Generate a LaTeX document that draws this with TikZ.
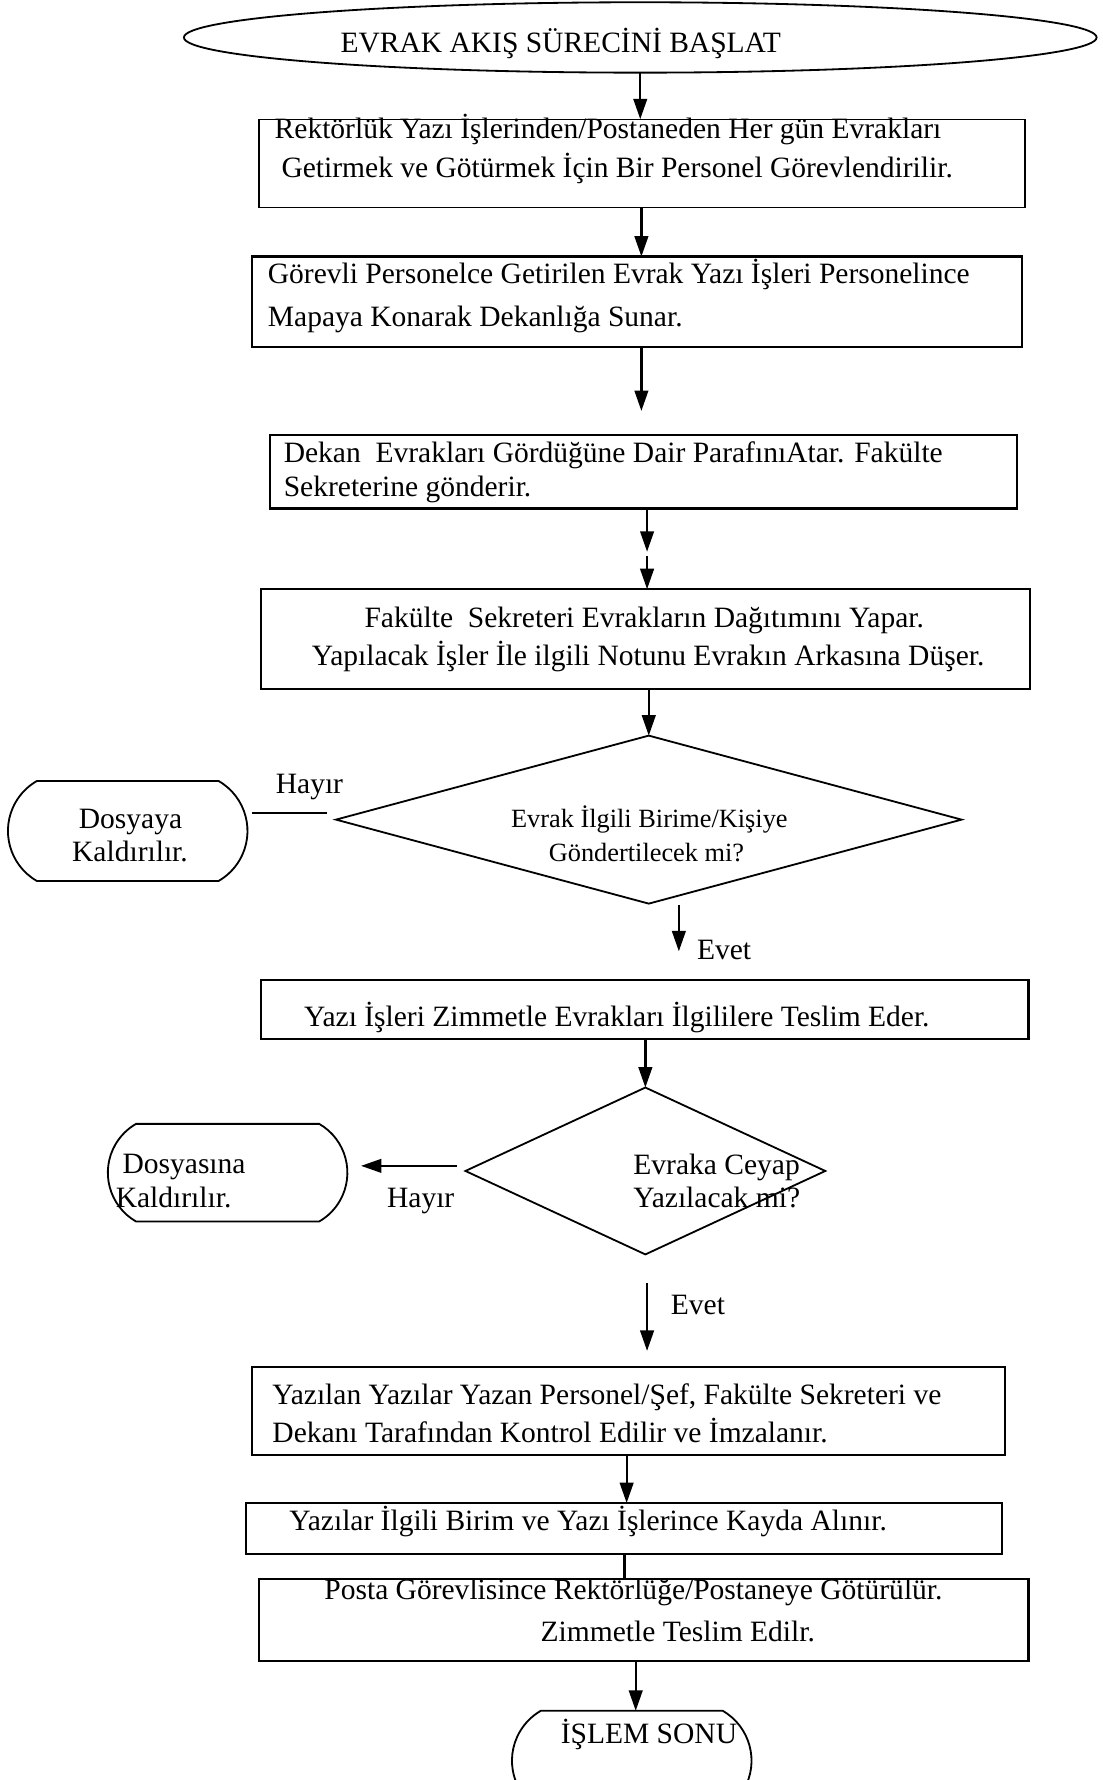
\documentclass[tikz,border=0pt]{standalone}
\usepackage{fontspec}
\setmainfont{Liberation Serif}
\usetikzlibrary{shapes.geometric,shapes.misc,arrows.meta,fit}
\begin{document}
\begin{tikzpicture}[x=0.5pt,y=-0.5pt,
  every node/.style={inner sep=0pt, outer sep=0pt},
  lbl/.style={font=\fontsize{13pt}{15pt}\selectfont, anchor=base west},
  clbl/.style={font=\fontsize{13pt}{15pt}\selectfont, anchor=base},
  qlbl/.style={font=\fontsize{11.6pt}{14pt}\selectfont, anchor=base},
  box/.style={draw, rectangle, line width=0.95pt},
  term/.style={draw, rounded rectangle, rounded rectangle arc length=120, line width=0.8pt},
  decide/.style={draw, diamond, line width=0.8pt},
  arr/.style={line width=1pt, -{Triangle[length=9pt,width=6pt]}},
  link/.style={line width=1pt}]
\useasboundingbox (0,0) rectangle (971,1568);

% start / end terminals
\node[draw, ellipse, line width=0.8pt, minimum width=402pt, minimum height=31pt] (start) at (564,33) {};
\node[lbl] (startt) at (300,46) {EVRAK AKIŞ SÜRECİNİ BAŞLAT};

% process boxes
\node[box, line width=0.6pt, fit={(228,105)(903,183)}] (b1) {};
\node[lbl] (b1a) at (242,122) {Rektörlük Yazı İşlerinden/Postaneden Her gün Evrakları};
\node[lbl] (b1b) at (248,156) {Getirmek ve Götürmek İçin Bir Personel Görevlendirilir.};

\node[box, fit={(222,226)(900,306)}] (b2) {};
\node[lbl] (b2a) at (236,250) {Görevli Personelce Getirilen Evrak Yazı İşleri Personelince};
\node[lbl] (b2b) at (236,288) {Mapaya Konarak Dekanlığa Sunar.};

\node[box, fit={(238,383)(896,448)}] (b3) {};
\node[lbl] (b3a) at (250,407) {Dekan\ \ Evrakları Gördüğüne Dair ParafınıAtar. Fakülte};
\node[lbl] (b3b) at (250,437) {Sekreterine gönderir.};

\node[box, fit={(230,519)(907,607)}] (b4) {};
\node[clbl] (b4a) at (567.5,553) {Fakülte\ \ Sekreteri Evrakların Dağıtımını Yapar.};
\node[clbl] (b4b) at (571,586) {Yapılacak İşler İle ilgili Notunu Evrakın Arkasına Düşer.};

% first decision
\node[decide, minimum width=275.5pt, minimum height=74pt] (d1) at (571.5,722) {};
\node[qlbl] (d1a) at (572,729) {Evrak İlgili Birime/Kişiye};
\node[qlbl] (d1b) at (569.5,759) {Göndertilecek mi?};

\node[term, minimum width=105.5pt, minimum height=44pt] (k1) at (112.5,732) {};
\node[clbl] (k1a) at (115,730) {Dosyaya};
\node[clbl] (k1b) at (114.5,759) {Kaldırılır.};
\node[lbl] (no1) at (243,699) {Hayır};
\node[lbl] (yes1) at (614,845) {Evet};

\node[box, fit={(230,863)(906,915)}] (b5) {};
\node[lbl] (b5a) at (268,904) {Yazı İşleri Zimmetle Evrakları İlgililere Teslim Eder.};

% second decision
\node[decide, minimum width=158.5pt, minimum height=73.5pt] (d2) at (568.5,1031.5) {};
\node[lbl] (d2a) at (558,1035) {Evraka Ceyap};
\node[lbl] (d2b) at (558,1064) {Yazılacak mi?};

\node[term, minimum width=105.5pt, minimum height=43pt] (k2) at (200.5,1033) {};
\node[lbl] (k2a) at (108,1034) {Dosyasına};
\node[lbl] (k2b) at (102,1064) {Kaldırılır.};
\node[lbl] (no2) at (341,1064) {Hayır};
\node[lbl] (yes2) at (591,1158) {Evet};

\node[box, fit={(222,1204)(885,1282)}] (b6) {};
\node[lbl] (b6a) at (240,1237) {Yazılan Yazılar Yazan Personel/Şef, Fakülte Sekreteri ve};
\node[lbl] (b6b) at (240,1271) {Dekanı Tarafından Kontrol Edilir ve İmzalanır.};

\node[box, fit={(217,1324)(883,1369)}] (b7) {};
\node[lbl] (b7a) at (255,1348) {Yazılar İlgili Birim ve Yazı İşlerince Kayda Alınır.};

\node[box, fit={(228,1391)(906,1463)}] (b8) {};
\node[clbl] (b8a) at (558,1409) {Posta Görevlisince Rektörlüğe/Postaneye Götürülür.};
\node[clbl] (b8b) at (597,1446) {Zimmetle Teslim Edilr.};

\node[term, minimum width=105.5pt, minimum height=44pt] (end) at (556.5,1551) {};
\node[lbl] (endt) at (494,1536) {İŞLEM SONU};

% column positions of the connectors
\coordinate (c565) at (565,0);
\coordinate (c570) at (570,0);
\coordinate (c552) at (552,0);
\coordinate (c550) at (550,0);
\coordinate (c560) at (560,0);
\coordinate (p1) at (565,362);
\coordinate (p2) at (570,486);
\coordinate (p3) at (570,490);
\coordinate (n1a) at (288,716);
\coordinate (n1b) at (222,716);
\coordinate (y1a) at (598,797);
\coordinate (y1b) at (598,838);
\coordinate (n2a) at (403,1027);
\coordinate (n2b) at (318,1027);
\coordinate (y2a) at (570,1130);
\coordinate (y2b) at (570,1190);

% connectors
\draw[arr] (start.south) -- (start.south |- b1.north);
\draw[arr] (b1.south -| c565) -- (b2.north -| c565);
\draw[arr] (b2.south -| c565) -- (p1);
\draw[arr] (b3.south -| c570) -- (p2);
\draw[arr] (p3) -- (b4.north -| c570);
\draw[arr] (b4.south -| d1.north) -- (d1.north);
\draw[link] (n1a) -- (n1b);
\draw[arr] (y1a) -- (y1b);
\draw[arr] (b5.south -| d2.north) -- (d2.north);
\draw[arr] (n2a) -- (n2b);
\draw[arr] (y2a) -- (y2b);
\draw[arr] (b6.south -| c552) -- (b7.north -| c552);
\draw[link] (b7.south -| c550) -- (b8.north -| c550);
\draw[arr] (b8.south -| c560) -- (end.north -| c560);
\end{tikzpicture}
\end{document}
